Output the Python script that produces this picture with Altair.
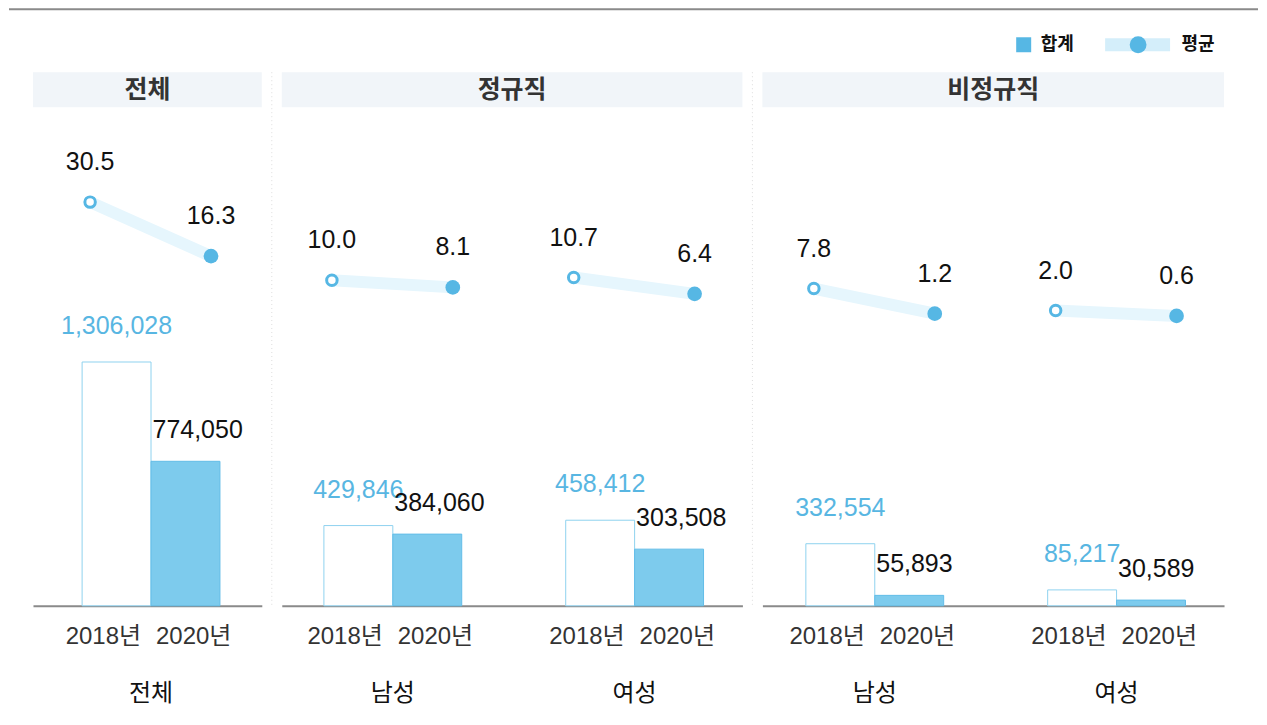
import altair as alt
import pandas as pd

# ---------------- data ----------------
panels = ["전체", "정규직", "비정규직"]
panel_groups = [["전체"], ["남성", "여성"], ["남성", "여성"]]
years = ["2018년", "2020년"]
total_2018 = [1306028, 429846, 458412, 332554, 85217]
total_2020 = [774050, 384060, 303508, 55893, 30589]
avg_2018 = [30.5, 10.0, 10.7, 7.8, 2.0]
avg_2020 = [16.3, 8.1, 6.4, 1.2, 0.6]
legend_labels = ["합계", "평균"]

rows = []
k = 0
for p, gs in zip(panels, panel_groups):
    for g in gs:
        for y, tot, avg in zip(years, (total_2018[k], total_2020[k]), (avg_2018[k], avg_2020[k])):
            rows.append(dict(panel=p, group=g, year=y, total=tot, avg=avg,
                             total_label=f"{tot:,}", avg_label=f"{avg:.1f}"))
        k += 1
df = pd.DataFrame(rows)

# ---------------- style ----------------
H = 534
WIDTHS = [229, 461, 462]
ALIGNS = [0.54, 0.52, 0.53]
STEP = 242
PI = 0.43
BAR_MAX = H * 5352.6
AVG_DOMAIN = [-75.55, 64.62]

BLUE = "#56b7e4"
BLUE_TEXT = "#58b6e2"
BAR_FILL = "#7dcbed"
BAR_STROKE = ["#8fd2ef", "#62bde8"]
BAND = "#e6f6fd"
LEG_BAND = "#d4eefa"
HEAD_BG = "#f1f5f9"
NUM_FONT = "Liberation Sans, Noto Sans CJK KR"
KR_FONT = "Noto Sans CJK KR"
NUM_SIZE = 25


def one_row():
    return alt.Data(values=[{"k": 0}])


def make_panel(i):
    p = panels[i]
    W = WIDTHS[i]
    n = len(panel_groups[i])
    po = ((W / STEP) - n + PI) / 2
    d = df[df.panel == p]
    base = alt.Chart(d)

    xenc = alt.X(
        "group:N",
        sort=panel_groups[i],
        title=None,
        scale=alt.Scale(domain=panel_groups[i], paddingInner=PI, paddingOuter=po, align=ALIGNS[i]),
        axis=alt.Axis(ticks=False, domainColor="#8a8a8a", domainWidth=2, labelFontSize=24,
                      labelColor="#111", labelPadding=76, labelAngle=0, labelFont=KR_FONT,
                      labelFontWeight="normal"),
    )
    xoff_bar = alt.XOffset("year:N", sort=years,
                           scale=alt.Scale(domain=years, paddingInner=0, paddingOuter=0))
    xoff_pt = alt.XOffset("year:N", sort=years,
                          scale=alt.Scale(type="point", domain=years, range=[8, 129], padding=0))
    ybar = alt.Y("total:Q", scale=alt.Scale(domain=[0, BAR_MAX], nice=False, zero=True), axis=None)
    yavg = alt.Y("avg:Q", scale=alt.Scale(domain=AVG_DOMAIN, nice=False, zero=False), axis=None)

    f18 = alt.datum.year == years[0]
    f20 = alt.datum.year == years[1]

    bars = base.mark_bar(strokeWidth=1).encode(
        x=xenc, xOffset=xoff_bar, y=ybar,
        fill=alt.Fill("year:N", scale=alt.Scale(domain=years, range=["#ffffff", BAR_FILL]), legend=None),
        stroke=alt.Stroke("year:N", scale=alt.Scale(domain=years, range=BAR_STROKE), legend=None),
    )
    lab18 = base.transform_filter(f18).mark_text(
        fontSize=NUM_SIZE, font=NUM_FONT, color=BLUE_TEXT, dy=-36, baseline="middle"
    ).encode(x=xenc, xOffset=xoff_bar, y=ybar, text="total_label:N")
    lab20 = base.transform_filter(f20).mark_text(
        fontSize=NUM_SIZE, font=NUM_FONT, color="#111", dy=-31, dx=-33, align="left", baseline="middle"
    ).encode(x=xenc, xOffset=xoff_bar, y=ybar, text="total_label:N")
    yr18 = base.transform_filter(f18).mark_text(
        fontSize=24, font=NUM_FONT, color="#333", dx=24.5, align="right", baseline="middle"
    ).encode(x=xenc, xOffset=xoff_bar, y=alt.value(H + 31), text="year:N")
    yr20 = base.transform_filter(f20).mark_text(
        fontSize=24, font=NUM_FONT, color="#333", dx=-29.5, align="left", baseline="middle"
    ).encode(x=xenc, xOffset=xoff_bar, y=alt.value(H + 31), text="year:N")
    bar_part = alt.layer(bars, lab18, lab20, yr18, yr20)

    line = base.mark_line(color=BAND, strokeWidth=12).encode(
        x=xenc, xOffset=xoff_pt, y=yavg, detail="group:N")
    pt18 = base.transform_filter(f18).mark_circle(
        size=110, fill="white", stroke=BLUE, strokeWidth=3, opacity=1
    ).encode(x=xenc, xOffset=xoff_pt, y=yavg)
    pt20 = base.transform_filter(f20).mark_circle(
        size=216, color=BLUE, opacity=1
    ).encode(x=xenc, xOffset=xoff_pt, y=yavg)
    avglab = base.mark_text(fontSize=NUM_SIZE, font=NUM_FONT, color="#111", dy=-40, baseline="middle").encode(
        x=xenc, xOffset=xoff_pt, y=yavg, text="avg_label:N")
    line_part = alt.layer(line, pt18, pt20, avglab)

    hdr_data = alt.Data(values=[{"panel": p}])
    head_rect = alt.Chart(hdr_data).mark_rect(color=HEAD_BG).encode(
        x=alt.value(0), x2=alt.value(W), y=alt.value(0), y2=alt.value(35))
    head_text = alt.Chart(hdr_data).mark_text(
        fontSize=25, font=KR_FONT, fontWeight="bold", color="#333", baseline="middle"
    ).encode(x=alt.value(W / 2), y=alt.value(18), text="panel:N")

    deco = [head_rect, head_text]
    if i == 0:
        top_rule = alt.Chart(one_row()).mark_rule(color="#8a8a8a", strokeWidth=2).encode(
            x=alt.value(-24), x2=alt.value(1226), y=alt.value(-63))
        deco.append(top_rule)
    else:
        sep = alt.Chart(one_row()).mark_rule(color="#dddddd", strokeWidth=1, strokeDash=[1, 3]).encode(
            x=alt.value(-10), y=alt.value(0), y2=alt.value(H))
        deco.append(sep)
    if i == 2:
        leg_sq = alt.Chart(one_row()).mark_square(size=225, color=BLUE, opacity=1).encode(
            x=alt.value(261.5), y=alt.value(-27.5))
        leg_t1 = alt.Chart(alt.Data(values=[{"t": legend_labels[0]}])).mark_text(
            fontSize=18, font=KR_FONT, fontWeight="bold", color="#111", align="left", baseline="middle"
        ).encode(x=alt.value(278.5), y=alt.value(-27.5), text="t:N")
        leg_band = alt.Chart(one_row()).mark_rect(color=LEG_BAND).encode(
            x=alt.value(343), x2=alt.value(408), y=alt.value(-34), y2=alt.value(-21))
        leg_pt = alt.Chart(one_row()).mark_circle(size=283, color=BLUE, opacity=1).encode(
            x=alt.value(376), y=alt.value(-27.5))
        leg_t2 = alt.Chart(alt.Data(values=[{"t": legend_labels[1]}])).mark_text(
            fontSize=18, font=KR_FONT, fontWeight="bold", color="#111", align="left", baseline="middle"
        ).encode(x=alt.value(419.5), y=alt.value(-27.5), text="t:N")
        deco += [leg_sq, leg_t1, leg_band, leg_pt, leg_t2]

    return alt.layer(*deco, bar_part, line_part).resolve_scale(
        y="independent", xOffset="independent"
    ).properties(width=W, height=H)


chart = alt.hconcat(*[make_panel(i) for i in range(3)], spacing=20, bounds="flush").properties(
    padding={"left": 0, "top": 0, "right": 0, "bottom": 12},
    autosize=alt.AutoSizeParams(type="pad"),
).configure_view(stroke=None)

chart.save("out.html", embed_options={"renderer": "svg", "actions": False})
